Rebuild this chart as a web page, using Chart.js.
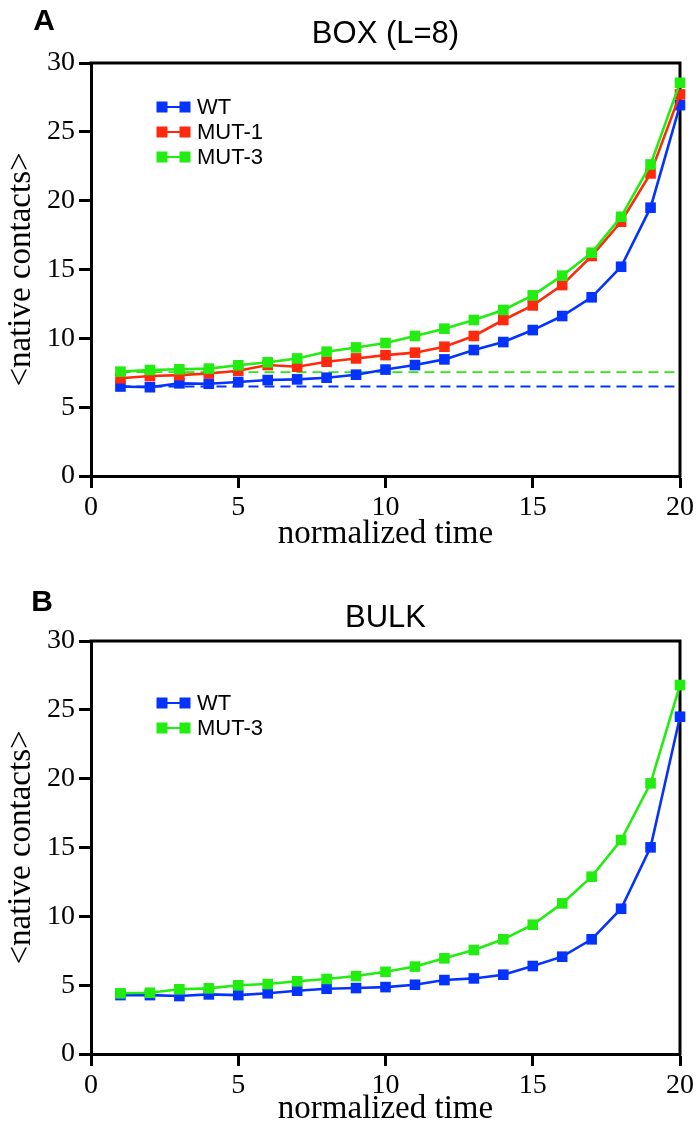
<!DOCTYPE html>
<html>
<head>
<meta charset="utf-8">
<script src="https://cdn.jsdelivr.net/npm/chart.js@4.4.1/dist/chart.umd.min.js"></script>
<style>
  html, body { margin: 0; padding: 0; background: #fff; }
  body { width: 699px; height: 1126px; position: relative; overflow: hidden; }
  canvas { position: absolute; left: 0; }
  #c1 { top: 0; }
  #c2 { top: 560px; }
</style>
</head>
<body>
<canvas id="c1" width="699" height="560"></canvas>
<canvas id="c2" width="699" height="566"></canvas>
<script>
// ---- data ----
const times = [1,2,3,4,5,6,7,8,9,10,11,12,13,14,15,16,17,18,19,20];
const xTicks = [0,5,10,15,20];
const yTicks = [0,5,10,15,20,25,30];

const boxWT   = [6.50,6.45,6.73,6.70,6.83,6.97,7.02,7.14,7.36,7.73,8.06,8.47,9.15,9.73,10.60,11.62,12.98,15.20,19.49,26.94];
const boxMUT1 = [7.10,7.26,7.33,7.45,7.65,8.06,7.94,8.30,8.54,8.78,8.96,9.39,10.17,11.33,12.39,13.87,15.98,18.47,21.98,27.72];
const boxMUT3 = [7.58,7.70,7.75,7.80,8.04,8.26,8.54,9.03,9.34,9.66,10.17,10.70,11.33,12.06,13.12,14.55,16.22,18.83,22.63,28.56];
const boxRefWT   = [6.50, 6.50];
const boxRefMUT3 = [7.55, 7.55];
const refTimes = [1, 20];

const bulkWT   = [4.28,4.28,4.21,4.33,4.28,4.41,4.60,4.74,4.79,4.86,5.03,5.37,5.49,5.76,6.39,7.07,8.33,10.55,15.01,24.50];
const bulkMUT3 = [4.41,4.45,4.70,4.77,4.99,5.08,5.28,5.45,5.66,5.97,6.35,6.95,7.55,8.33,9.39,10.94,12.88,15.54,19.66,26.80];

// ---- styles ----
const BLUE = '#0433ff', RED = '#ff2a0d', GREEN = '#22ec10';
const pts = (xs, ys) => xs.map((x, i) => ({x, y: ys[i]}));

function series(label, xs, ys, color, order) {
  return {
    label, data: pts(xs, ys), borderColor: color, backgroundColor: color,
    borderWidth: 2.6, pointStyle: 'rect', pointRadius: 7.5, pointHoverRadius: 7.5,
    pointBorderWidth: 0, pointBackgroundColor: color, tension: 0, order, clip: false
  };
}
function refLine(label, xs, ys, color, order) {
  return {
    label, data: pts(xs, ys), borderColor: color, borderWidth: 1.8,
    borderDash: [10, 6], pointRadius: 0, order, clip: false, isRef: true
  };
}

const decoPlugin = {
  id: 'deco',
  beforeDatasetsDraw(chart) {
    const {ctx, chartArea: a} = chart;
    ctx.save();
    ctx.strokeStyle = '#000'; ctx.lineWidth = 3; ctx.lineCap = 'square';
    ctx.beginPath();
    ctx.moveTo(a.left, a.top); ctx.lineTo(a.right, a.top); ctx.lineTo(a.right, a.bottom);
    ctx.stroke();
    ctx.restore();
  },
  afterDraw(chart, args, o) {
    const {ctx, chartArea: a} = chart;
    ctx.save();
    ctx.fillStyle = '#000';
    ctx.textBaseline = 'middle';
    ctx.textAlign = 'center';
    ctx.font = 'bold 30px "Liberation Sans", Arial, sans-serif';
    ctx.fillText(o.panel, o.panelX, o.panelY);
    ctx.font = '31px "Liberation Sans", Arial, sans-serif';
    ctx.fillText(o.title, (a.left + a.right) / 2, o.titleY);
    // legend
    ctx.textAlign = 'left';
    ctx.font = '22px "Liberation Sans", Arial, sans-serif';
    const items = chart.data.datasets.filter(d => !d.isRef);
    items.forEach((d, i) => {
      const y = o.legendY + i * o.legendStep;
      ctx.strokeStyle = d.borderColor; ctx.lineWidth = 2;
      ctx.beginPath(); ctx.moveTo(o.legendX1, y); ctx.lineTo(o.legendX2, y); ctx.stroke();
      ctx.fillStyle = d.borderColor;
      ctx.fillRect(o.legendX1 - 5.5, y - 5.5, 11, 11);
      ctx.fillRect(o.legendX2 - 5.5, y - 5.5, 11, 11);
      ctx.fillStyle = '#000';
      ctx.fillText(d.label, o.legendTextX, y + 1);
    });
    ctx.restore();
  }
};

function makeOptions(deco, xAxisHeight, padTop, xTitlePad) {
  const serif = '"Liberation Serif", "Times New Roman", serif';
  return {
    responsive: false, animation: false, devicePixelRatio: 1,
    layout: { padding: { top: padTop, right: 19, left: 0, bottom: 0 } },
    plugins: { legend: { display: false }, tooltip: { enabled: false }, deco },
    scales: {
      x: {
        type: 'linear', min: 0, max: 20,
        afterBuildTicks: s => { s.ticks = xTicks.map(v => ({value: v})); },
        afterFit: s => { s.height = xAxisHeight; },
        grid: { drawOnChartArea: false, drawTicks: true, tickLength: 12, tickWidth: 3, tickColor: '#000' },
        border: { display: true, width: 3, color: '#000' },
        ticks: { color: '#000', padding: 3, maxRotation: 0, font: { family: serif, size: 28 } },
        title: { display: true, text: 'normalized time', color: '#000', padding: { top: 0, bottom: xTitlePad },
                 font: { family: serif, size: 33, lineHeight: 1.0 } }
      },
      y: {
        type: 'linear', min: 0, max: 30,
        afterBuildTicks: s => { s.ticks = yTicks.map(v => ({value: v})); },
        afterFit: s => { s.width = 91; },
        grid: { drawOnChartArea: false, drawTicks: true, tickLength: 12, tickWidth: 3, tickColor: '#000' },
        border: { display: true, width: 3, color: '#000' },
        ticks: { color: '#000', padding: 4, font: { family: serif, size: 28 } },
        title: { display: true, text: '<native contacts>', color: '#000', padding: { top: 5, bottom: 0 },
                 font: { family: serif, size: 33, lineHeight: 1.0 } }
      }
    }
  };
}

new Chart(document.getElementById('c1'), {
  type: 'line',
  data: { datasets: [
    series('WT', times, boxWT, BLUE, 3),
    series('MUT-1', times, boxMUT1, RED, 2),
    series('MUT-3', times, boxMUT3, GREEN, 1),
    refLine('_WT ref', refTimes, boxRefWT, BLUE, 5),
    refLine('_MUT-3 ref', refTimes, boxRefMUT3, GREEN, 4)
  ]},
  options: makeOptions({ panel: 'A', panelX: 44, panelY: 22, title: 'BOX (L=8)', titleY: 34,
    legendX1: 162, legendX2: 185, legendTextX: 197, legendY: 107, legendStep: 25 }, 84, 63, 9),
  plugins: [decoPlugin]
});

new Chart(document.getElementById('c2'), {
  type: 'line',
  data: { datasets: [
    series('WT', times, bulkWT, BLUE, 3),
    series('MUT-3', times, bulkMUT3, GREEN, 1)
  ]},
  options: makeOptions({ panel: 'B', panelX: 42, panelY: 43, title: 'BULK', titleY: 58,
    legendX1: 162, legendX2: 185, legendTextX: 197, legendY: 143, legendStep: 25 }, 72, 81, 0),
  plugins: [decoPlugin]
});
</script>
</body>
</html>
